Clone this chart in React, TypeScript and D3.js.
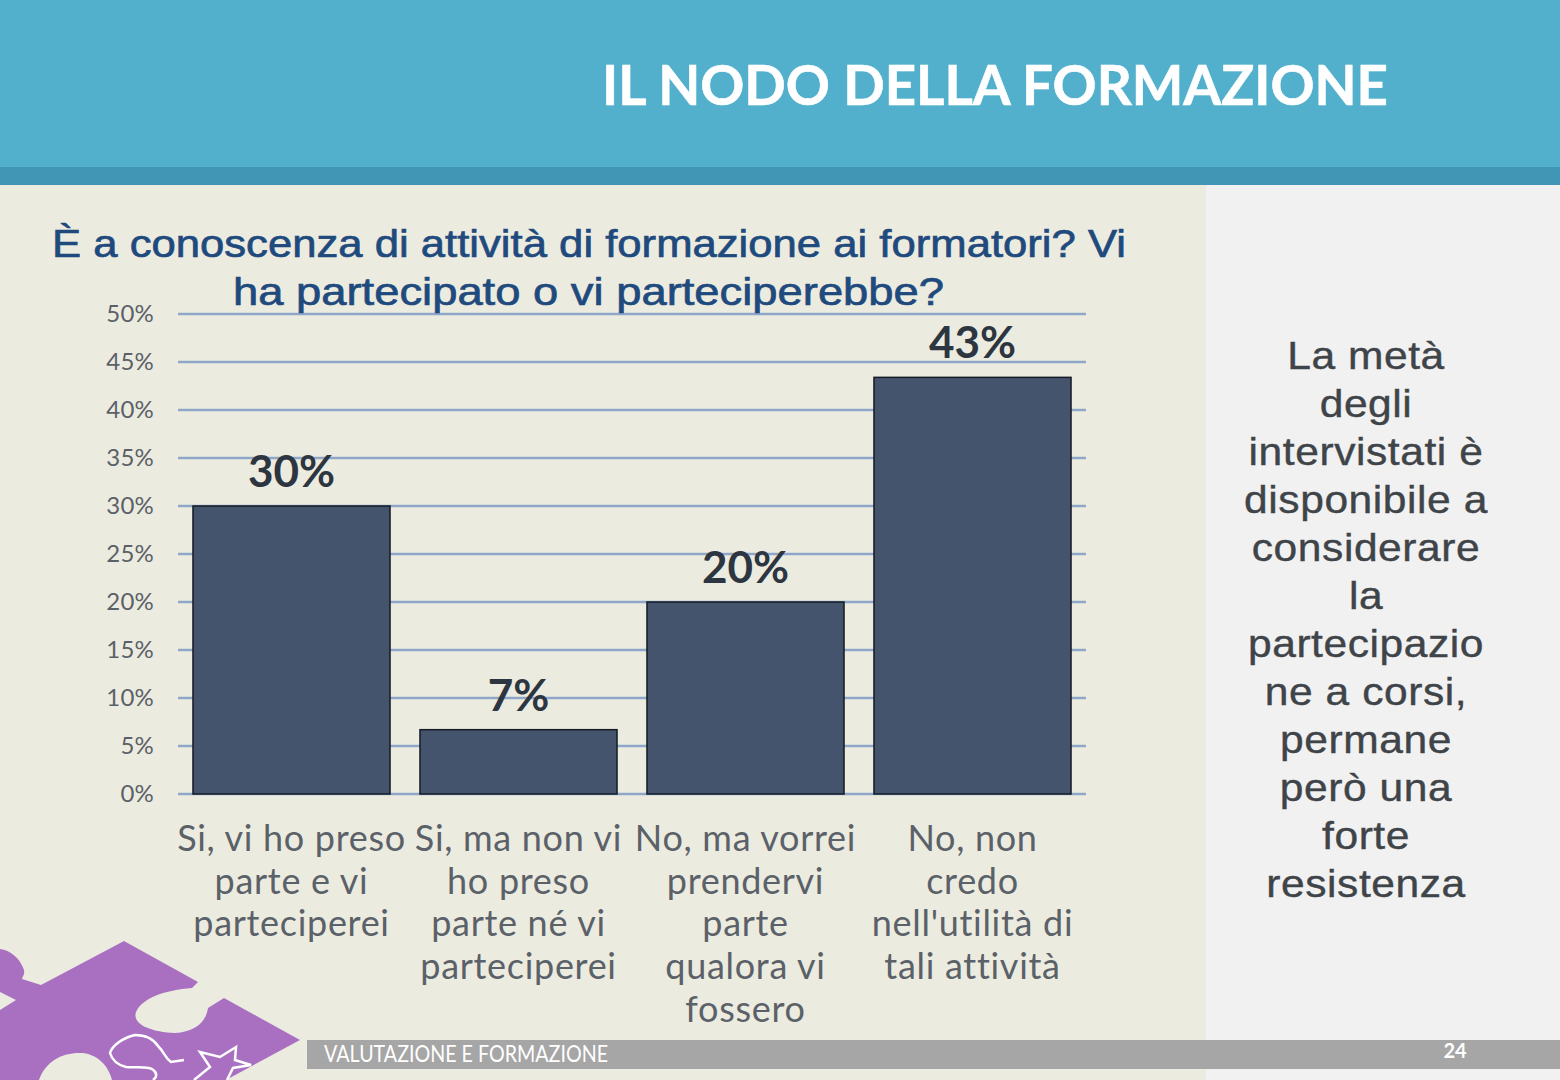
import * as d3 from "d3";
import { useEffect, useRef } from "react";

const WIDTH = 1560;
const HEIGHT = 1080;
const PLOT = { top: 314, right: 1086, bottom: 794, left: 178 };

const categories = ["a", "b", "c", "d"];
const values = [30, 6.7, 20, 43.4];
const valueLabels = ["30%", "7%", "20%", "43%"];
const yTicks = [0, 5, 10, 15, 20, 25, 30, 35, 40, 45, 50];
const categoryLines = [
  ["Si, vi ho preso", "parte e vi", "parteciperei"],
  ["Si, ma non vi", "ho preso", "parte né vi", "parteciperei"],
  ["No, ma vorrei", "prendervi", "parte", "qualora vi", "fossero"],
  ["No, non", "credo", "nell'utilità di", "tali attività"],
];
const titleLines = ["È a conoscenza di attività di formazione ai formatori? Vi", "ha partecipato o vi parteciperebbe?"];
const sideLines = [
  "La metà",
  "degli",
  "intervistati è",
  "disponibile a",
  "considerare",
  "la",
  "partecipazio",
  "ne a corsi,",
  "permane",
  "però una",
  "forte",
  "resistenza",
];

const GOTHIC = "Lato, 'Open Sans', sans-serif";

export default function App() {
  const ref = useRef<SVGSVGElement>(null);

  useEffect(() => {
    const svg = d3.select(ref.current);
    svg.selectAll("*").remove();

    // sfondo
    svg.append("rect").attr("width", WIDTH).attr("height", HEIGHT).attr("fill", "#ecebe0");
    svg.append("rect").attr("x", 1206).attr("y", 185).attr("width", 354).attr("height", 895).attr("fill", "#f1f1f1");
    svg.append("rect").attr("width", WIDTH).attr("height", 167).attr("fill", "#53b0cc");
    svg.append("rect").attr("y", 167).attr("width", WIDTH).attr("height", 18).attr("fill", "#4096b4");

    svg
      .append("text")
      .attr("x", 602)
      .attr("y", 105)
      .attr("textLength", 786)
      .attr("lengthAdjust", "spacingAndGlyphs")
      .attr("font-family", "Lato, sans-serif")
      .attr("font-weight", 700)
      .attr("font-size", 56)
      .attr("fill", "#ffffff")
      .attr("stroke", "#ffffff")
      .attr("stroke-width", 0.6)
      .text("IL NODO DELLA FORMAZIONE");

    const x = d3
      .scaleBand()
      .domain(categories)
      .range([PLOT.left, PLOT.right])
      .paddingInner(0.132)
      .paddingOuter(0.066);

    const y = d3.scaleLinear().domain([0, 50]).range([PLOT.bottom, PLOT.top]);

    // griglia
    svg
      .append("g")
      .selectAll("line")
      .data(yTicks)
      .join("line")
      .attr("x1", PLOT.left)
      .attr("x2", PLOT.right)
      .attr("y1", (d) => y(d))
      .attr("y2", (d) => y(d))
      .attr("stroke", "#8fa6c8")
      .attr("stroke-width", 2.5);

    // asse Y
    svg
      .append("g")
      .selectAll("text")
      .data(yTicks)
      .join("text")
      .attr("x", 154)
      .attr("y", (d) => y(d) + 8)
      .attr("text-anchor", "end")
      .attr("font-family", GOTHIC)
      .attr("font-size", 24)
      .attr("letter-spacing", 0.2)
      .attr("fill", "#5b6168")
      .text((d) => `${d}%`);

    // barre
    svg
      .append("g")
      .selectAll("rect")
      .data(values)
      .join("rect")
      .attr("x", (_, i) => x(categories[i]) || 0)
      .attr("y", (d) => y(d))
      .attr("width", x.bandwidth())
      .attr("height", (d) => PLOT.bottom - y(d))
      .attr("fill", "#44546c")
      .attr("stroke", "#141b24")
      .attr("stroke-width", 1.5);

    // etichette valori
    svg
      .append("g")
      .selectAll("text")
      .data(values)
      .join("text")
      .attr("x", (_, i) => (x(categories[i]) || 0) + x.bandwidth() / 2)
      .attr("y", (d) => y(d) - 19)
      .attr("text-anchor", "middle")
      .attr("font-family", GOTHIC)
      .attr("font-weight", 700)
      .attr("font-size", 44)
      .attr("fill", "#2d3640")
      .text((_, i) => valueLabels[i]);

    // etichette categorie
    categories.forEach((c, i) => {
      svg
        .append("g")
        .selectAll("text")
        .data(categoryLines[i])
        .join("text")
        .attr("x", (x(c) || 0) + x.bandwidth() / 2)
        .attr("y", (_, j) => 851 + j * 42.7)
        .attr("text-anchor", "middle")
        .attr("font-family", GOTHIC)
        .attr("font-size", 36)
        .attr("letter-spacing", 0.7)
        .attr("fill", "#5b6168")
        .text((d) => d);
    });

    // domanda
    svg
      .append("g")
      .selectAll("text")
      .data(titleLines)
      .join("text")
      .attr("x", (_, i) => (i === 0 ? 52 : 233))
      .attr("y", (_, i) => 257 + i * 47.5)
      .attr("textLength", (_, i) => (i === 0 ? 1074 : 711))
      .attr("lengthAdjust", "spacingAndGlyphs")
      .attr("font-family", "'Liberation Sans', sans-serif")
      .attr("font-size", 39)
      .attr("fill", "#1f4a7d")
      .attr("stroke", "#1f4a7d")
      .attr("stroke-width", 0.7)
      .text((d) => d);

    // testo laterale
    svg
      .append("g")
      .selectAll("text")
      .data(sideLines)
      .join("text")
      .attr("transform", (_, i) => `translate(1366, ${369 + i * 48}) scale(1.12, 1)`)
      .attr("text-anchor", "middle")
      .attr("font-family", "'Liberation Sans', sans-serif")
      .attr("font-size", 38)
      .attr("letter-spacing", 0.5)
      .attr("fill", "#3f4449")
      .attr("stroke", "#3f4449")
      .attr("stroke-width", 0.4)
      .text((d) => d);

    // piè di pagina
    svg.append("rect").attr("x", 307).attr("y", 1040).attr("width", 1253).attr("height", 29).attr("fill", "#a6a6a6");
    svg
      .append("text")
      .attr("x", 324)
      .attr("y", 1062)
      .attr("font-family", "Lato, sans-serif")
      .attr("font-size", 23)
      .attr("textLength", 284)
      .attr("lengthAdjust", "spacingAndGlyphs")
      .attr("fill", "#ffffff")
      .text("VALUTAZIONE E FORMAZIONE");
    svg
      .append("text")
      .attr("x", 1455)
      .attr("y", 1058)
      .attr("text-anchor", "middle")
      .attr("font-family", "Lato, sans-serif")
      .attr("font-weight", 700)
      .attr("font-size", 20)
      .attr("fill", "#ffffff")
      .text("24");

    // pezzo di puzzle
    svg
      .append("path")
      .attr(
        "d",
        "M0,949 C10,950 20,958 24,970 C25,975 22,977 22,979 L41,985 L124,941 L198,982 L192,988 C165,990 142,998 136,1012 C132,1024 150,1032 175,1033 C195,1032 206,1022 208,1008 L224,998 L300,1040 L226,1080 L112,1080 C108,1064 96,1054 82,1053 C64,1052 46,1060 39,1080 L0,1080 L0,1010 L16,1000 L0,992 Z"
      )
      .attr("fill", "#a970c2");
    svg
      .append("path")
      .attr(
        "d",
        "M184,1060 L171,1062 C165,1058 165,1053 158,1046 C152,1037 142,1035 135,1035 C122,1038 112,1046 110,1053 C112,1060 118,1065 126,1067 C136,1068 146,1066 152,1069 C158,1073 157,1077 153,1080"
      )
      .attr("fill", "none")
      .attr("stroke", "#ffffff")
      .attr("stroke-width", 2.5);
    svg
      .append("path")
      .attr("d", "M194,1080 L210,1067 L200,1052 L220,1057 L236,1047 L235,1060 L251,1065 L233,1068 L227,1080")
      .attr("fill", "none")
      .attr("stroke", "#ffffff")
      .attr("stroke-width", 2.5);
  }, []);

  return <svg ref={ref} width={WIDTH} height={HEIGHT} style={{ position: "absolute", left: 0, top: 0 }} />;
}
